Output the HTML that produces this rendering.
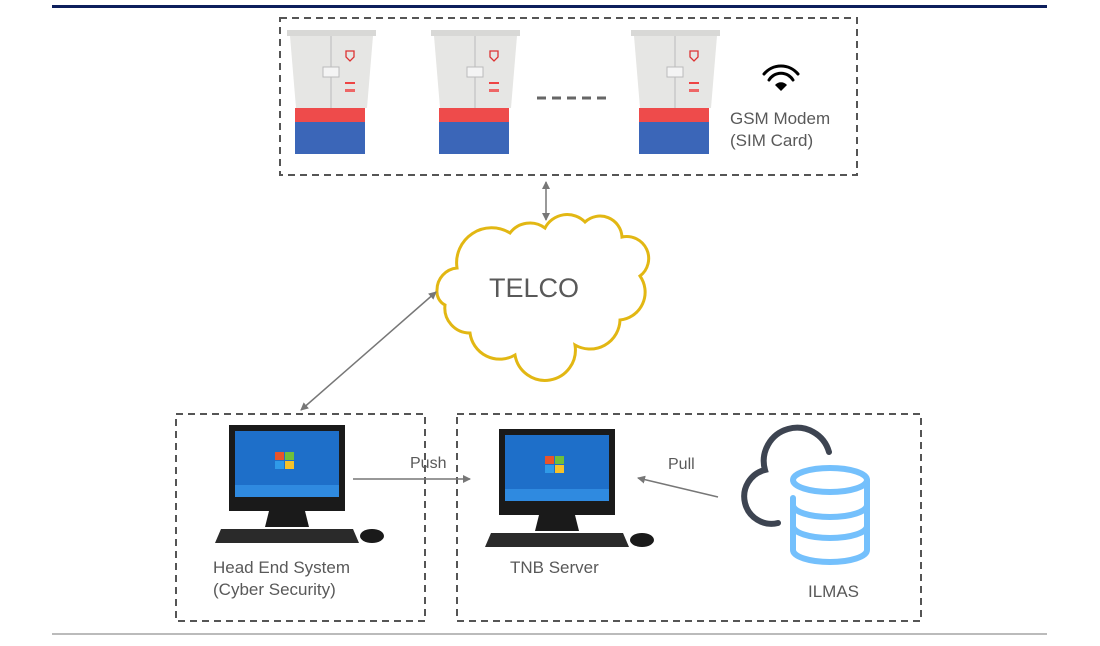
<!DOCTYPE html>
<html><head><meta charset="utf-8"><style>
html,body{margin:0;padding:0;background:#fff;width:1100px;height:646px;overflow:hidden}
svg text{font-family:"Liberation Sans",sans-serif;fill:#595959}
</style></head><body>
<svg width="1100" height="646" viewBox="0 0 1100 646" xmlns="http://www.w3.org/2000/svg">
<defs>
<marker id="ah" markerWidth="8" markerHeight="8" refX="7" refY="4" orient="auto" markerUnits="userSpaceOnUse"><path d="M0,0 L8,4 L0,8 Z" fill="#777"/></marker>
<marker id="as" markerWidth="8" markerHeight="8" refX="1" refY="4" orient="auto" markerUnits="userSpaceOnUse"><path d="M8,0 L0,4 L8,8 Z" fill="#777"/></marker>
<g id="cab">
<rect x="0" y="3" width="89" height="6" fill="#d8d8d6"/>
<path d="M3,9 h83 l-6,72 h-71z" fill="#e6e6e4"/>
<line x1="44" y1="9" x2="44" y2="81" stroke="#bbb"/>
<rect x="36" y="40" width="16" height="10" fill="#f4f4f4" stroke="#bbb"/>
<path d="M59,24 h8 v6 l-4,4 l-4,-4z" fill="none" stroke="#d33" stroke-width="1.3"/>
<rect x="58" y="55" width="10" height="2" fill="#e44"/>
<rect x="58" y="62" width="10" height="3" fill="#e66"/>
<rect x="8" y="81" width="70" height="14" fill="#ee4b4b"/>
<rect x="8" y="95" width="70" height="32" fill="#3b66b8"/>
</g>
<g id="pc">
<rect x="0" y="0" width="116" height="86" fill="#1a1a1a"/>
<rect x="6" y="6" width="104" height="66" fill="#1e6fc9"/>
<rect x="6" y="60" width="104" height="12" fill="#2f8ae0"/>
<rect x="46" y="27" width="9" height="8" fill="#e8542a"/><rect x="56" y="27" width="9" height="8" fill="#6fbf3a"/>
<rect x="46" y="36" width="9" height="8" fill="#2f9ae8"/><rect x="56" y="36" width="9" height="8" fill="#f6c22a"/>
<path d="M40,86 h36 l4,16 h-44z" fill="#1a1a1a"/>
<path d="M-8,104 h132 l6,14 h-144z" fill="#2a2a2a"/>
<ellipse cx="143" cy="111" rx="12" ry="7" fill="#1a1a1a"/>
</g>
</defs>
<rect x="52" y="5" width="995" height="3" fill="#0d1f5c"/>
<line x1="52" y1="634" x2="1047" y2="634" stroke="#777" stroke-width="1"/>
<g fill="none" stroke="#555" stroke-width="2" stroke-dasharray="7,5">
<rect x="280" y="18" width="577" height="157"/>
<rect x="176" y="414" width="249" height="207"/>
<rect x="457" y="414" width="464" height="207"/>
</g>
<use href="#cab" x="287" y="27"/>
<use href="#cab" x="431" y="27"/>
<use href="#cab" x="631" y="27"/>
<line x1="537" y1="98" x2="608" y2="98" stroke="#666" stroke-width="3" stroke-dasharray="9,6"/>
<g fill="none" stroke="#000" stroke-width="3" stroke-linecap="round">
<path d="M764,74 a22,22 0 0 1 34,0"/><path d="M769,80 a14,14 0 0 1 24,0"/></g>
<path d="M775,85 a8,8 0 0 1 12,0 l-6,6z" fill="#000"/>
<text x="730" y="124" font-size="17">GSM Modem</text>
<text x="730" y="146" font-size="17">(SIM Card)</text>
<line x1="546" y1="182" x2="546" y2="220" stroke="#777" stroke-width="1.5" marker-end="url(#ah)" marker-start="url(#as)"/>
<path d="M437,290 A22,22 0 0 1 457,268 A35,35 0 0 1 510,233 A25,25 0 0 1 545,228 A25,25 0 0 1 585,222 A22,22 0 0 1 622,237 A22,22 0 0 1 640,276 A28,28 0 0 1 620,320 A30,30 0 0 1 575,345 A30,30 0 0 1 515,355 A30,30 0 0 1 470,333 A25,25 0 0 1 445,305 A15,15 0 0 1 437,290 Z" fill="#fff" stroke="#e2b713" stroke-width="3"/>
<text x="534" y="297" font-size="27" text-anchor="middle">TELCO</text>
<line x1="301" y1="410" x2="436" y2="292" stroke="#777" stroke-width="1.5" marker-end="url(#ah)" marker-start="url(#as)"/>
<use href="#pc" x="229" y="425"/>
<use href="#pc" x="499" y="429"/>
<text x="213" y="573" font-size="17">Head End System</text>
<text x="213" y="595" font-size="17">(Cyber Security)</text>
<text x="510" y="573" font-size="17">TNB Server</text>
<text x="410" y="468" font-size="16">Push</text>
<line x1="353" y1="479" x2="470" y2="479" stroke="#777" stroke-width="1.5" marker-end="url(#ah)"/>
<text x="668" y="469" font-size="16">Pull</text>
<line x1="718" y1="497" x2="638" y2="478" stroke="#777" stroke-width="1.5" marker-end="url(#ah)"/>
<path d="M829,452 A32,32 0 0 0 765,470 A27,27 0 0 0 778,523" fill="none" stroke="#3d4451" stroke-width="6" stroke-linecap="round"/>
<g fill="none" stroke="#74c0fc" stroke-width="6" stroke-linecap="round">
<ellipse cx="830" cy="480" rx="37" ry="12"/>
<path d="M793,498 v52 a37,12 0 0 0 74,0 v-70"/>
<path d="M793,505 a37,12 0 0 0 74,0"/>
<path d="M793,526 a37,12 0 0 0 74,0"/>
</g>
<text x="808" y="597" font-size="17">ILMAS</text>
</svg>
</body></html>
